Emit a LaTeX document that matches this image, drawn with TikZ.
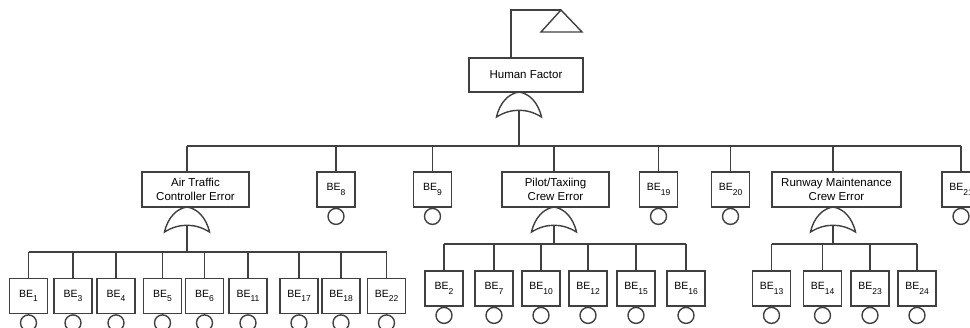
\documentclass[tikz,border=0pt]{standalone}
\usepackage{fontspec}
\setmainfont{Liberation Sans}
\newcommand\be[1]{BE\raisebox{-4.5pt}{\fontsize{8.5}{9}\selectfont #1}}
\tikzset{
  ln/.style={draw=black!75, line width=1.4pt},
  evbox/.style={ln, rectangle, minimum width=38pt, minimum height=35pt,
    inner sep=0pt, font=\fontsize{10.5}{12}\selectfont},
  gatebox/.style={ln, rectangle, inner sep=0pt, align=center,
    font=\fontsize{11.5}{14.5}\selectfont},
  basic/.style={ln, circle, minimum size=16pt, inner sep=0pt, anchor=north},
  orgate/.pic={
    \draw[ln] (-22.5,25) .. controls (-19,10) and (-10,1.5) .. (0,0)
      .. controls (10,1.5) and (19,10) .. (22.5,25)
      .. controls (8,16) and (-8,16) .. cycle;
    \coordinate (-top) at (0,0);
    \coordinate (-out) at (0,18.25);
  }
}
\begin{document}
\begin{tikzpicture}[x=1pt, y=-1pt]
\useasboundingbox (0,0) rectangle (970,328);
\clip (0,0) rectangle (970,328);

% top event with transfer triangle
\node[gatebox, minimum width=114pt, minimum height=34pt] (hf) at (526,75) {Human Factor};
\coordinate (tri) at (561,10);
\coordinate (trleg) at (511,10);
\draw[ln] (tri) -- (582,32) -- (541,32) -- cycle;
\draw[ln] (hf.north -| trleg) |- (tri);
\pic (ghf) at (519,92) {orgate};

% first level
\coordinate (bus1) at (0,146);
\draw[ln] (ghf-out) -- (ghf-out |- bus1);

\node[gatebox, minimum width=107pt, minimum height=35pt] (atc) at (195.5,189.5) {Air Traffic\\Controller Error};
\pic (gatc) at (187,207) {orgate};
\node[gatebox, minimum width=107pt, minimum height=35pt] (pil) at (555.5,189.5) {Pilot/Taxiing\\Crew Error};
\pic (gpil) at (554,207) {orgate};
\node[gatebox, minimum width=129pt, minimum height=35pt] (rwy) at (836.5,189.5) {Runway Maintenance\\Crew Error};
\pic (grwy) at (833,207) {orgate};

\foreach \n/\x in {8/336, 9/432.5, 19/658.5, 20/730.5, 21/961} {
  \node[evbox] (be\n) at (\x,189.5) {\be{\n}};
  \node[basic] (c\n) at (be\n.south) {};
  \draw[ln] (be\n.north) -- (be\n.north |- bus1);
}
\draw[ln] (atc.north -| gatc-top) -- (gatc-top |- bus1);
\draw[ln] (pil.north -| gpil-top) -- (gpil-top |- bus1);
\draw[ln] (rwy.north -| grwy-top) -- (grwy-top |- bus1);
\draw[ln] (gatc-top |- bus1) -- (be21.north |- bus1);

% air traffic controller branch
\coordinate (busa) at (0,252);
\foreach \n/\x in {1/28.5, 3/73, 4/116, 5/162.5, 6/204.5, 11/248, 17/299, 18/341, 22/386.5} {
  \node[evbox] (be\n) at (\x,296) {\be{\n}};
  \node[basic] (c\n) at (be\n.south) {};
  \draw[ln] (be\n.north) -- (be\n.north |- busa);
}
\draw[ln] (be1.north |- busa) -- (be22.north |- busa);
\draw[ln] (gatc-out) -- (gatc-out |- busa);

% pilot / taxiing crew branch
\coordinate (busp) at (0,244);
\foreach \n/\x in {2/444, 7/494, 10/541, 12/588, 15/636, 16/686} {
  \node[evbox] (be\n) at (\x,288.5) {\be{\n}};
  \node[basic] (c\n) at (be\n.south) {};
  \draw[ln] (be\n.north) -- (be\n.north |- busp);
}
\draw[ln] (be2.north |- busp) -- (be16.north |- busp);
\draw[ln] (gpil-out) -- (gpil-out |- busp);

% runway maintenance crew branch
\foreach \n/\x in {13/771.5, 14/822.5, 23/870, 24/917} {
  \node[evbox] (be\n) at (\x,288.5) {\be{\n}};
  \node[basic] (c\n) at (be\n.south) {};
  \draw[ln] (be\n.north) -- (be\n.north |- busp);
}
\draw[ln] (be13.north |- busp) -- (be24.north |- busp);
\draw[ln] (grwy-out) -- (grwy-out |- busp);
\end{tikzpicture}
\end{document}
